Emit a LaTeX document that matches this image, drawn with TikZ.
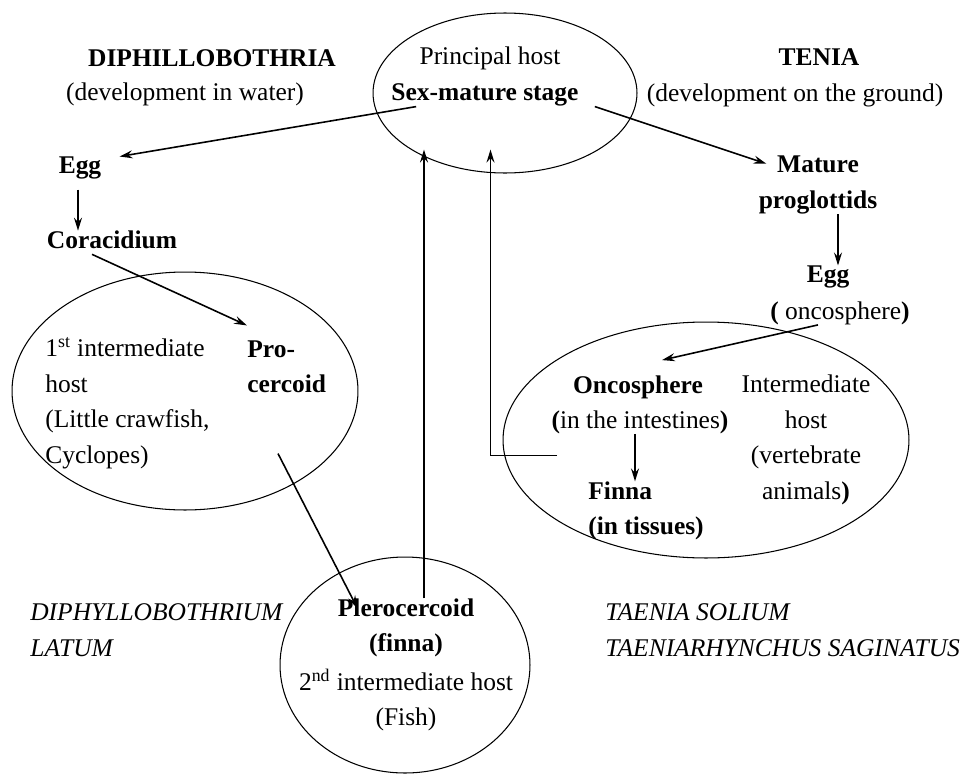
\documentclass[tikz,border=0pt]{standalone}
\usepackage{fontspec}
\setmainfont{Liberation Serif}
\usepackage{tikz}
\usetikzlibrary{arrows.meta,positioning,shapes.geometric}
\newcommand{\cyclefont}{\fontsize{14.5}{20.2}\selectfont}

\begin{document}
\begin{tikzpicture}[x=0.02cm, y=-0.02cm, every node/.style={font=\cyclefont, inner sep=0pt}]
\tikzset{host/.style={draw, ellipse, line width=0.6pt}}
\tikzset{stage/.style={font=\cyclefont\bfseries}}
\tikzset{species/.style={font=\cyclefont\itshape, align=left, anchor=west}}
\tikzset{arr/.style={-{Stealth[length=2.6mm,width=1.6mm,inset=0.9mm]}, line width=0.9pt}}
\useasboundingbox (0,0) rectangle (973,774);
\node[host, minimum width=5.28cm, minimum height=3.2cm] (hostE) at (505,93) {};
\node[host, minimum width=6.92cm, minimum height=4.76cm] (firstE) at (185,391) {};
\node[host, minimum width=5cm, minimum height=4.32cm] (fishE) at (405,665) {};
\node[host, minimum width=8.12cm, minimum height=4.72cm] (vertE) at (706,440) {};
\node[stage] (diph) at (212,58) {DIPHILLOBOTHRIA};
\node (water) at (185,94) {(development in water)};
\node (principal) at (490,58) {Principal host};
\node[stage] (sex) at (485,95) {Sex-mature stage};
\node[stage] (tenia) at (819,57) {TENIA};
\node (ground) at (795,95) {(development on the ground)};
\node[stage] (egg1) at (80,168) {Egg};
\node[stage] (cora) at (112,240) {Coracidium};
\node[align=left, anchor=west] (first) at (45,403) {1\textsuperscript{st} intermediate\\host\\(Little crawfish,\\Cyclopes)};
\node[stage, align=left, anchor=west] (pro) at (247,367) {Pro-\\cercoid};
\node[stage, align=center] (pler) at (406,628) {Plerocercoid\\(finna)};
\node[align=center] (second) at (406,700) {2\textsuperscript{nd} intermediate host\\(Fish)};
\node[stage, align=center] (mature) at (818,185) {Mature\\proglottids};
\node[stage] (egg2) at (828,277) {Egg};
\node (onco) at (840,313) {\textbf{(} oncosphere\textbf{)}};
\node[stage] (oncos) at (638,387) {Oncosphere};
\node (intest) at (640,422) {\textbf{(}in the intestines\textbf{)}};
\node[stage, align=left, anchor=west] (finna) at (588,511) {Finna\\(in tissues)};
\node[align=center] (inter) at (806,440) {Intermediate\\host\\(vertebrate\\animals\textbf{)}};
\node[species] (latum) at (30,630) {DIPHYLLOBOTHRIUM\\LATUM};
\node[species] (solium) at (605,630) {TAENIA SOLIUM\\TAENIARHYNCHUS SAGINATUS};
\draw[arr] ([xshift=0.5cm]sex.south west) -- ([xshift=0.36cm]egg1.north east);
\draw[arr] ([xshift=0.32cm]sex.south east) -- ([xshift=0.16cm,yshift=-0.16cm]mature.north west);
\draw[arr] ([xshift=-0.04cm,yshift=-0.2cm]egg1.south) -- ([xshift=-0.04cm]egg1.south |- cora.north);
\draw[arr] ([xshift=-0.4cm,yshift=-0.1cm]cora.south) -- ([yshift=0.3cm]pro.north west);
\draw[arr] ([xshift=0.62cm,yshift=-1.2cm]pro.south west) -- ([xshift=0.4cm,yshift=-0.2cm]pler.north west);
\draw[arr] ([xshift=0.36cm]pler.north) -- ([xshift=0.36cm,yshift=-0.86cm]pler.north |- sex.south);
\draw[arr] ([xshift=-0.62cm,yshift=0.52cm]finna.north west) -| ([xshift=0.11cm,yshift=-0.86cm]sex.south);
\draw[arr] ([xshift=0.4cm]mature.south) -- ([xshift=0.4cm]mature.south |- egg2.north);
\draw[arr] ([xshift=-0.44cm]onco.south) -- ([xshift=0.48cm,yshift=0.3cm]oncos.north);
\draw[arr] ([xshift=-0.1cm]intest.south) -- ([xshift=-0.1cm]intest.south |- finna.north);
\end{tikzpicture}
\end{document}
